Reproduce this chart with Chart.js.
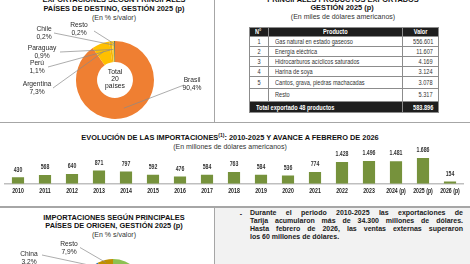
<!DOCTYPE html>
<html><head><meta charset="utf-8">
<script src="https://cdn.jsdelivr.net/npm/chart.js@4"></script>
<style>
html,body{margin:0;padding:0;background:#fff;}
body{width:470px;height:264px;overflow:hidden;position:relative;font-family:"Liberation Sans",Arial,sans-serif;color:#1a1a1a;}
.t{position:absolute;white-space:nowrap;transform:translate(-50%,-50%);line-height:1;}
.b{font-weight:bold;font-size:7.4px;color:#111;}
.s{font-size:7px;color:#333;}
.ln{position:absolute;background:#a6a6a6;}
table{position:absolute;border-collapse:collapse;font-family:"Liberation Sans",Arial,sans-serif;font-size:7px;color:#333;table-layout:fixed;}
td,th{border:0.8px solid #8c8c8c;padding:0;line-height:1;white-space:nowrap;overflow:visible;}
th{background:#1e1e1e;color:#fff;font-weight:bold;}
tr.tot td{background:#1e1e1e;color:#fff;font-weight:bold;}
.n{display:inline-block;transform:scaleX(0.8);}
.nl{transform-origin:left center;}
.nr{transform-origin:right center;}
.nc{transform-origin:center center;}
#box{position:absolute;left:215px;top:208px;width:255px;height:56px;background:#f2f2f2;}
#para{position:absolute;left:250px;top:209px;width:213px;font-weight:bold;font-size:7px;line-height:8px;color:#1a1a1a;}
#para span{display:block;text-align:justify;text-align-last:justify;}
#para span.last{text-align-last:left;}
</style></head>
<body>
<div class="ln" style="left:0;top:121.5px;width:470px;height:1.5px"></div>
<div class="ln" style="left:213.5px;top:0;width:1.2px;height:122px"></div>
<div class="ln" style="left:0;top:206px;width:470px;height:1.5px"></div>
<div class="ln" style="left:213.5px;top:207px;width:1.2px;height:57px"></div>
<div id="box"></div>

<div class="t b" style="left:114px;top:0px">EXPORTACIONES SEGÚN PRINCIPALES</div>
<div class="t b" style="left:114px;top:8.5px">PAÍSES DE DESTINO, GESTIÓN 2025 (p)</div>
<div class="t s" style="left:114px;top:16.5px">(En % s/valor)</div>

<div class="t b" style="left:343px;top:-0.5px">PRINCIPALES PRODUCTOS EXPORTADOS</div>
<div class="t b" style="left:342px;top:7.5px">GESTIÓN 2025 (p)</div>
<div class="t s" style="left:343px;top:16px">(En miles de dólares americanos)</div>

<table id="tbl" style="left:249px;top:26.7px;width:189px"></table>

<canvas id="donut1" style="position:absolute;left:0;top:20px"></canvas>

<div class="t b" style="left:230px;top:137px">EVOLUCIÓN DE LAS IMPORTACIONES<sup style="font-size:5px;vertical-align:3px">(1)</sup>: 2010-2025 Y AVANCE A FEBRERO DE 2026</div>
<div class="t s" style="left:230px;top:145.5px">(En millones de dólares americanos)</div>
<canvas id="bars" style="position:absolute;left:0;top:145px"></canvas>

<div class="t b" style="left:114px;top:218.3px">IMPORTACIONES SEGÚN PRINCIPALES</div>
<div class="t b" style="left:114px;top:226.3px">PAÍSES DE ORIGEN, GESTIÓN 2025 (p)</div>
<div class="t s" style="left:114px;top:234.3px">(En % s/valor)</div>
<div style="position:absolute;left:0;top:237px;width:213px;height:27px;overflow:hidden">
  <canvas id="donut2" style="position:absolute;left:0;top:0"></canvas>
</div>

<div class="t" style="left:241px;top:213px;font-size:7px;font-weight:bold">-</div>
<div id="para"><span>Durante el periodo 2010-2025 las exportaciones de</span><span>Tarija acumularon más de 34.300 millones de dólares.</span><span>Hasta febrero de 2026, las ventas externas superaron</span><span class="last">los 60 millones de dólares.</span></div>

<script>
// ---- DATA ----
const destCountries = ['Brasil','Argentina','Perú','Paraguay','Chile','Resto'];
const destShares = [90.4, 7.3, 1.1, 0.9, 0.2, 0.2];
const destTotalText = ['Total','20','países'];

const productNames = ['Gas natural en estado gaseoso','Energía eléctrica','Hidrocarburos acíclicos saturados','Harina de soya','Cantos, grava, piedras machacadas','Resto'];
const productNumbers = ['1','2','3','4','5',''];
const productValues = [556601, 11607, 4169, 3124, 3078, 5317];
const productTotalLabel = 'Total exportado 48 productos';
const productTotal = 583896;

const importYears = ['2010','2011','2012','2013','2014','2015','2016','2017','2018','2019','2020','2021','2022','2023','2024 (p)','2025 (p)','2026 (p)'];
const importValues = [430, 568, 640, 871, 797, 592, 476, 584, 763, 584, 536, 774, 1428, 1496, 1481, 1686, 154];

const originCountries = ['Principales orígenes','China','Resto'];
const originShares = [88.9, 3.2, 7.9];

// ---- helpers ----
const SANS = '"Liberation Sans",Arial,sans-serif';
const NX = 0.8; // horizontal squeeze to mimic a narrow face
function fmtThousands(n){ return String(n).replace(/\B(?=(\d{3})+(?!\d))/g,'.'); }
function fmtPct(v){ return v.toFixed(1).replace('.',',') + '%'; }
function narrowText(ctx, s, x, y){ ctx.save(); ctx.translate(x, y); ctx.scale(NX, 1); ctx.fillText(s, 0, 0); ctx.restore(); }
function nspan(s, al){ return '<span class="n n'+al+'">'+s+'</span>'; }

// ---- table ----
(function(){
  const t = document.getElementById('tbl');
  let h = '<colgroup><col style="width:19px"><col style="width:134px"><col style="width:36px"></colgroup>';
  h += '<tr style="height:9.3px"><th style="text-align:left;padding-left:5px">'+nspan('N°','l')+'</th><th>'+nspan('Producto','c')+'</th><th>'+nspan('Valor','c')+'</th></tr>';
  const hs = [10,10,10,10,11.6,13.7];
  productNames.forEach((p,i)=>{
    h += '<tr style="height:'+hs[i]+'px"><td style="text-align:center">'+nspan(productNumbers[i],'c')+'</td><td style="padding-left:6px">'+nspan(p,'l')+'</td><td style="text-align:right;padding-right:5px">'+nspan(fmtThousands(productValues[i]),'r')+'</td></tr>';
  });
  h += '<tr class="tot" style="height:10.7px"><td colspan="2" style="padding-left:6px">'+nspan(productTotalLabel,'l')+'</td><td style="text-align:right;padding-right:5px">'+nspan(fmtThousands(productTotal),'r')+'</td></tr>';
  t.innerHTML = h;
})();

// ---- donut label plugin ----
function donutLabels(id, layout, offY, centerLines, centerYs){
  return {
    id: id,
    afterDatasetsDraw(chart){
      const ctx = chart.ctx;
      const meta = chart.getDatasetMeta(0);
      const labels = chart.data.labels, vals = chart.data.datasets[0].data;
      ctx.save();
      layout.forEach(l=>{
        const p = meta.data[l.i].getProps(['x','y','startAngle','endAngle','innerRadius','outerRadius'], true);
        const a = (p.startAngle + p.endAngle)/2;
        const r = p.innerRadius + (p.outerRadius - p.innerRadius)*l.rf;
        const ex = p.x + Math.cos(a)*r, ey = p.y + Math.sin(a)*r;
        ctx.strokeStyle = '#8a8a8a'; ctx.lineWidth = 0.7;
        ctx.beginPath(); ctx.moveTo(l.ax, l.ay - offY); ctx.lineTo(ex, ey); ctx.stroke();
        ctx.fillStyle = '#2a2a2a'; ctx.font = '6.7px ' + SANS; ctx.textAlign = 'center'; ctx.textBaseline = 'middle';
        ctx.fillText(labels[l.i], l.x, l.y - offY);
        ctx.fillText(fmtPct(vals[l.i]), l.x, l.y + 7.8 - offY);
      });
      if (centerLines){
        const p = meta.data[0];
        ctx.fillStyle = '#222'; ctx.font = '6.8px ' + SANS; ctx.textAlign='center'; ctx.textBaseline='middle';
        centerLines.forEach((s,k)=> ctx.fillText(s, p.x, centerYs[k] - offY));
      }
      ctx.restore();
    }
  };
}

// ---- top donut ----
const d1 = document.getElementById('donut1');
d1.width = 213; d1.height = 101;
new Chart(d1, {
  type: 'doughnut',
  data: { labels: destCountries, datasets: [{ data: destShares,
    backgroundColor: ['#EF7F32','#FFC000','#F2B30C','#FFCF33','#5E8C2B','#1A1A1A'], borderWidth: 0 }] },
  options: {
    responsive: false, animation: false, cutout: '46%',
    layout: { padding: { left: 76, right: 59, top: 21, bottom: 2 } },
    plugins: { legend: { display: false }, tooltip: { enabled: false } }
  },
  plugins: [donutLabels('d1l', [
    { i: 0, x: 192, y: 80.5, ax: 184, ay: 85, rf: 0.55 },
    { i: 1, x: 37, y: 84.5, ax: 53, ay: 88, rf: 0.6 },
    { i: 2, x: 37, y: 63, ax: 48, ay: 67, rf: 0.6 },
    { i: 3, x: 42, y: 48.5, ax: 60, ay: 52, rf: 0.6 },
    { i: 4, x: 44, y: 29, ax: 54, ay: 33, rf: 0.8 },
    { i: 5, x: 79, y: 25, ax: 94, ay: 31, rf: 0.85 }
  ], 20, destTotalText, [71.8, 79.3, 86.5])]
});

// ---- bar chart ----
const bc = document.getElementById('bars');
bc.width = 470; bc.height = 54;
new Chart(bc, {
  type: 'bar',
  data: { labels: importYears, datasets: [{ data: importValues, backgroundColor: '#76923C',
    barPercentage: 0.45, categoryPercentage: 1 }] },
  options: {
    responsive: false, animation: false,
    layout: { padding: { left: 4.5, right: 6.5, top: 13, bottom: 0 } },
    plugins: { legend: { display: false }, tooltip: { enabled: false } },
    scales: {
      x: { grid: { display: false, drawTicks: false }, border: { display: true, color: '#bfbfbf', width: 1.5 },
           ticks: { padding: 4, font: { family: SANS, size: 6, weight: 'bold' }, color: 'rgba(0,0,0,0)', maxRotation: 0, autoSkip: false } },
      y: { display: false, min: 0, max: Math.max(...importValues) }
    }
  },
  plugins: [{
    id: 'vals',
    afterDatasetsDraw(chart){
      const ctx = chart.ctx; const meta = chart.getDatasetMeta(0); const xs = chart.scales.x;
      ctx.save(); ctx.fillStyle = '#333'; ctx.font = 'bold 6.5px ' + SANS; ctx.textAlign = 'center'; ctx.textBaseline = 'middle';
      meta.data.forEach((b,i)=> narrowText(ctx, fmtThousands(importValues[i]), b.x, b.y - 7.5));
      ctx.fillStyle = '#222';
      importYears.forEach((y,i)=> narrowText(ctx, y, xs.getPixelForTick(i), chart.chartArea.bottom + 7.8));
      ctx.restore();
    }
  }]
});

// ---- bottom donut (mostly cut off) ----
const d2 = document.getElementById('donut2');
d2.width = 213; d2.height = 120;
new Chart(d2, {
  type: 'doughnut',
  data: { labels: originCountries, datasets: [{ data: originShares,
    backgroundColor: ['#8DC152','#2E75B6','#BF8F00'], borderWidth: 0 }] },
  options: {
    responsive: false, animation: false, cutout: '46%',
    layout: { padding: { left: 81, right: 68, top: 22, bottom: 34 } },
    plugins: { legend: { display: false }, tooltip: { enabled: false } }
  },
  plugins: [donutLabels('d2l', [
    { i: 1, x: 29, y: 254.5, ax: 42, ay: 255, rf: 0.85 },
    { i: 2, x: 69, y: 244.5, ax: 80, ay: 247.5, rf: 0.85 }
  ], 237, null, null)]
});
</script>
</body></html>
